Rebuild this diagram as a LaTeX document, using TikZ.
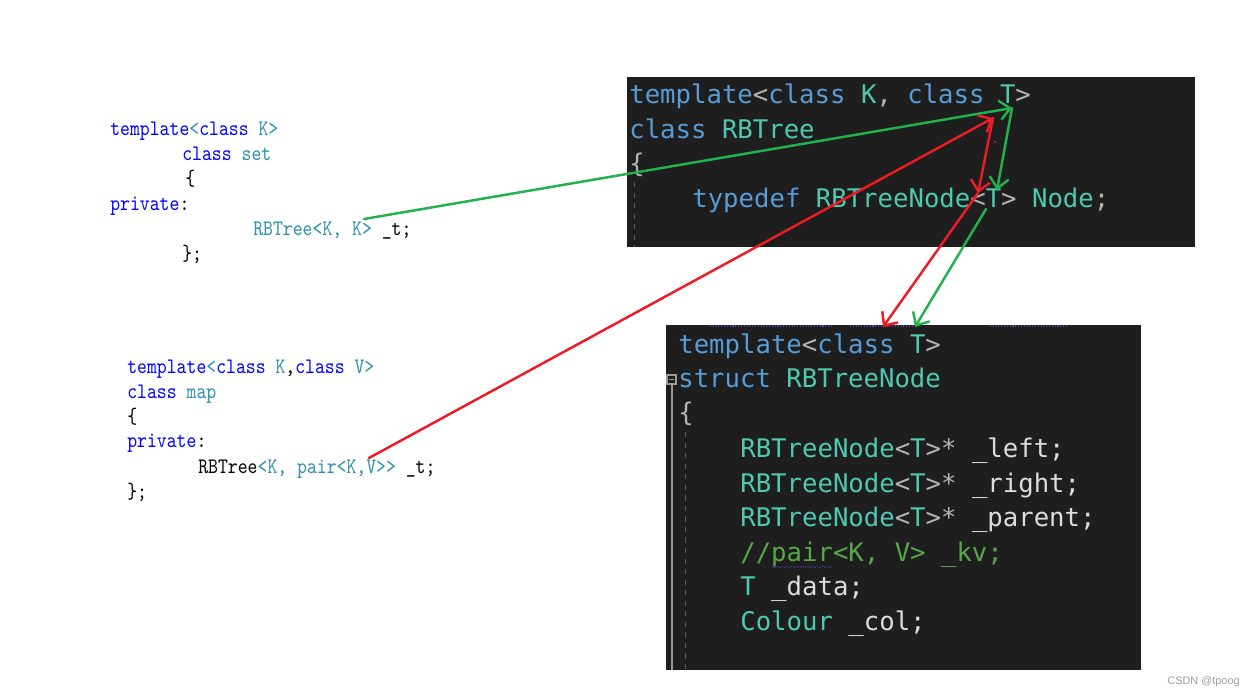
\documentclass[tikz,border=0pt]{standalone}
\usepackage{fontspec}
\usepackage{xcolor}
\usepackage{tikz}
\usetikzlibrary{arrows.meta,decorations.pathmorphing}

\newfontfamily\darkmono{DejaVu Sans Mono}
\newfontfamily\lightmono[FakeStretch=0.85]{lmmono10-regular.otf}
\newfontfamily\markfont{Liberation Sans}

\definecolor{vsbg}{HTML}{1E1E1E}
\definecolor{vskey}{HTML}{569CD6}
\definecolor{vstype}{HTML}{4EC9B0}
\definecolor{vstext}{HTML}{DCDCDC}
\definecolor{vspunct}{HTML}{B4B4B4}
\definecolor{vscomment}{HTML}{57A64A}
\definecolor{vsguide}{HTML}{9A9A9A}
\definecolor{vsdash}{HTML}{5A5A5A}
\definecolor{lkey}{HTML}{0000FF}
\definecolor{ltype}{HTML}{2B91AF}
\definecolor{paintgreen}{HTML}{22B14C}
\definecolor{paintred}{HTML}{ED1C24}

\newcommand{\kw}[1]{\textcolor{vskey}{#1}}
\newcommand{\ty}[1]{\textcolor{vstype}{#1}}
\newcommand{\pn}[1]{\textcolor{vspunct}{#1}}
\newcommand{\cmt}[1]{\textcolor{vscomment}{#1}}
\newcommand{\lkw}[1]{\textcolor{lkey}{#1}}
\newcommand{\lty}[1]{\textcolor{ltype}{#1}}

\tikzset{
  darkline/.style={anchor=base west, inner sep=0pt, text=vstext,
    font=\darkmono\fontsize{14.6}{17}\selectfont},
  lightline/.style={anchor=base west, inner sep=0pt, text=black,
    font=\lightmono\fontsize{12.6}{15}\selectfont},
  greenpen/.style={paintgreen, line width=1.4pt, line cap=round,
    -{Straight Barb[length=6pt,width=11pt]}},
  redpen/.style={paintred, line width=1.4pt, line cap=round,
    -{Straight Barb[length=6pt,width=11pt]}},
  squiggle/.style={blue!45!gray, line width=0.6pt, densely dotted}
}

\begin{document}
\begin{tikzpicture}[x=0.02cm, y=-0.02cm]
		\useasboundingbox (0,0) rectangle (1255,697);
		\fill[white] (0,0) rectangle (1255,697);

		% Dark editor boxes
		\fill[vsbg] (627,77) rectangle (1195,247);
		\fill[vsbg] (666,325) rectangle (1141,670);
		\draw[vsdash, dashed, line width=0.5pt] (634,182) -- (634,247);
		\draw[vsguide, line width=0.6pt] (672,384) -- (672,670);
		\draw[vsguide, line width=0.6pt] (667,375) rectangle (676,384);
		\draw[vsguide, line width=0.6pt] (669,379.5) -- (674,379.5);
		\draw[vsdash, dashed, line width=0.5pt] (685,432) -- (685,670);
		\draw[squiggle] (710,326) -- (832,326);
		\draw[squiggle] (850,326) -- (913,326);
		\draw[squiggle] (990,326) -- (1066,326);
		\draw[squiggle, decorate, decoration={snake, amplitude=0.4pt, segment length=2.5pt}] (772,567) -- (832,567);

		% Nodes: RBTree
		\node[darkline] (treeHead) at (629,103) {\kw{template}\pn{<}\kw{class} \ty{K}\pn{,} \kw{class} \ty{T}\pn{>}};
		\node[darkline] (treeName) at (629,138) {\kw{class} \ty{RBTree}};
		\node[darkline] (treeOpen) at (629,172) {\pn{\{}};
		\node[darkline] (treeDef) at (692,207) {\kw{typedef} \ty{RBTreeNode}\pn{<}\ty{T}\pn{>} \ty{Node}\pn{;}};

		% Nodes: RBTreeNode
		\node[darkline] (nodeHead) at (678,353) {\kw{template}\pn{<}\kw{class} \ty{T}\pn{>}};
		\node[darkline] (nodeName) at (678,387) {\kw{struct} \ty{RBTreeNode}};
		\node[darkline] (nodeOpen) at (678,421) {\pn{\{}};
		\node[darkline] (nodeLeft) at (740,457) {\ty{RBTreeNode}\pn{<}\ty{T}\pn{>*} \_left;};
		\node[darkline] (nodeRight) at (740,492) {\ty{RBTreeNode}\pn{<}\ty{T}\pn{>*} \_right;};
		\node[darkline] (nodeParent) at (740,526) {\ty{RBTreeNode}\pn{<}\ty{T}\pn{>*} \_parent;};
		\node[darkline] (nodeKv) at (740,561) {\cmt{//pair<K, V> \_kv;}};
		\node[darkline] (nodeData) at (740,595) {\ty{T} \_data;};
		\node[darkline] (nodeCol) at (740,630) {\ty{Colour} \_col;};

		% Nodes: set
		\node[lightline] (setHead) at (110,135) {\lkw{template}\lty{<}\lkw{class} \lty{K>}};
		\node[lightline] (setName) at (182,160) {\lkw{class} \lty{set}};
		\node[lightline] (setOpen) at (185,185) {\{};
		\node[lightline] (setPriv) at (110,210) {\lkw{private}:};
		\node[lightline] (setTree) at (253,235) {\lty{RBTree<K, K>} \_t;};
		\node[lightline] (setClose) at (182,260) {\};};

		% Nodes: map
		\node[lightline] (mapHead) at (127,373) {\lkw{template}\lty{<}\lkw{class} \lty{K},\lkw{class} \lty{V>}};
		\node[lightline] (mapName) at (127,398) {\lkw{class} \lty{map}};
		\node[lightline] (mapOpen) at (127,423) {\{};
		\node[lightline] (mapPriv) at (127,447) {\lkw{private}:};
		\node[lightline] (mapTree) at (198,473) {RBTree\lty{<K, pair<K,V>>} \_t;};
		\node[lightline] (mapClose) at (127,498) {\};};

		\node[anchor=base east, inner sep=0pt, text=gray!75, font=\markfont\fontsize{6.2}{7}\selectfont] (mark) at (1240,684) {CSDN @tpoog};

		% Arrow ends
		\coordinate (setK) at (364,219);
		\coordinate (headT) at (1012,108);
		\coordinate (defT) at (997,190);
		\coordinate (defTlow) at (986,209);
		\coordinate (nodeT) at (915,327);
		\coordinate (mapV) at (369,458);
		\coordinate (headTr) at (993,118);
		\coordinate (defTr) at (978,193);
		\coordinate (nodeTr) at (883,327);

		% Arrows
		\draw[greenpen] (setK) -- (headT);
		\draw[greenpen] (headT) -- (defT);
		\draw[greenpen] (defTlow) -- (nodeT);
		\draw[redpen] (mapV) -- (headTr);
		\draw[redpen] (headTr) -- (defTr);
		\draw[redpen] (defTr) -- (nodeTr);
		\fill[paintred] (995,142) circle (1.2);
	\end{tikzpicture}
\end{document}
